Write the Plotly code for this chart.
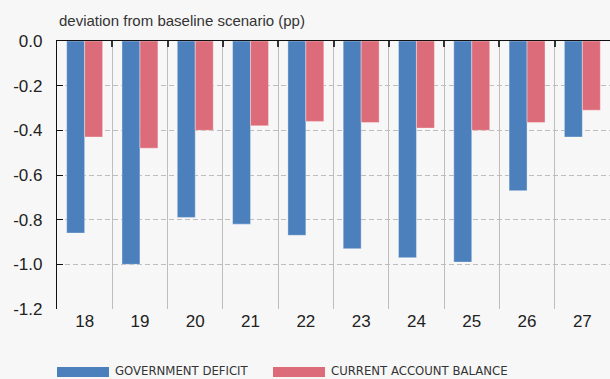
import plotly.graph_objects as go

years = ["18", "19", "20", "21", "22", "23", "24", "25", "26", "27"]
gov_deficit = [-0.86, -1.00, -0.79, -0.82, -0.87, -0.93, -0.97, -0.99, -0.67, -0.43]
current_account = [-0.43, -0.48, -0.40, -0.38, -0.36, -0.365, -0.39, -0.40, -0.365, -0.31]
y_tickvals = [0.0, -0.2, -0.4, -0.6, -0.8, -1.0, -1.2]
y_ticktext = ["0.0", "-0.2", "-0.4", "-0.6", "-0.8", "-1.0", "-1.2"]
series_names = ["GOVERNMENT DEFICIT", "CURRENT ACCOUNT BALANCE"]

BLUE = "#4C80BC"
RED = "#DC6C79"
BG = "#F7F7F7"
FONT = "Liberation Sans, Arial, sans-serif"
NARROW = "Liberation Sans Narrow, DejaVu Sans Condensed, sans-serif"

fig = go.Figure()
fig.add_trace(go.Bar(x=years, y=gov_deficit, name=series_names[0],
                     marker=dict(color=BLUE, line=dict(color="rgba(255,255,255,0.6)", width=0.6))))
fig.add_trace(go.Bar(x=years, y=current_account, name=series_names[1],
                     marker=dict(color=RED, line=dict(color="rgba(255,255,255,0.6)", width=0.6))))
# helper trace so the top axis carries the category boundaries
fig.add_trace(go.Scatter(x=years, y=[0] * len(years), xaxis="x2", mode="none",
                         showlegend=False, hoverinfo="skip"))

fig.update_layout(
    width=610, height=379,
    margin=dict(l=57, r=0, t=41, b=70),
    paper_bgcolor=BG, plot_bgcolor=BG,
    barmode="group", bargap=0.35, bargroupgap=0,
    showlegend=False,
    font=dict(family=FONT, color="#222"),
    xaxis=dict(type="category", categoryorder="array", categoryarray=years,
               range=[-0.5, 9.5], tickson="boundaries",
               showgrid=True, gridcolor="#BDBDBD", gridwidth=1,
               showline=False, zeroline=False,
               ticks="outside", ticklen=10, tickcolor="rgba(0,0,0,0)",
               tickfont=dict(size=17, family=FONT, color="#222")),
    xaxis2=dict(type="category", categoryorder="array", categoryarray=years,
                overlaying="x", side="top", range=[-0.5, 9.5], tickson="boundaries",
                showgrid=False, showline=True, linecolor="#111", linewidth=1.2,
                ticks="inside", ticklen=6, tickcolor="#333", tickwidth=1.5,
                showticklabels=False, zeroline=False),
    yaxis=dict(range=[-1.2, 0], tickvals=y_tickvals, ticktext=y_ticktext,
               showgrid=True, gridcolor="#BDBDBD", gridwidth=1, griddash="5px,3px",
               showline=True, linecolor="#111", linewidth=1.2,
               ticks="inside", ticklen=6, tickcolor="#111", tickwidth=1.2,
               ticklabelstandoff=10,
               zeroline=False,
               tickfont=dict(size=17, family=FONT, color="#222")),
)

fig.add_annotation(text="deviation from baseline scenario (pp)", xref="paper", yref="paper",
                   x=0, y=1, xanchor="left", yanchor="bottom", yshift=10, showarrow=False,
                   font=dict(size=15, family=FONT, color="#333"))

# custom legend with wide swatches
legend_items = [(series_names[0], BLUE, 0.0, 0.094), (series_names[1], RED, 0.3906, 0.4846)]
for name, color, x0, x1 in legend_items:
    fig.add_shape(type="rect", xref="paper", yref="paper", x0=x0, x1=x1,
                  y0=-0.2537, y1=-0.2164, fillcolor=color, line=dict(width=0), layer="above")
    fig.add_annotation(text=name, xref="paper", yref="paper", x=x1, y=-0.234,
                       xanchor="left", yanchor="middle", xshift=4, yshift=1, showarrow=False,
                       font=dict(size=13, family=NARROW, color="#333"))

fig.write_html("out.html")
